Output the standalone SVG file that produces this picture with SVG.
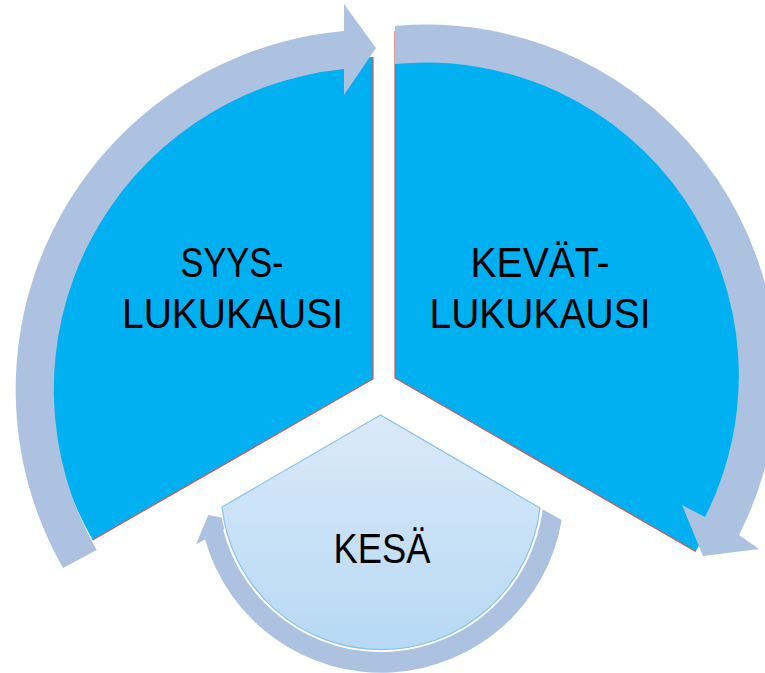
<svg xmlns="http://www.w3.org/2000/svg" width="765" height="673" viewBox="0 0 765 673">
  <defs>
    <linearGradient id="kesaGrad" x1="0" y1="0" x2="0" y2="1">
      <stop offset="0" stop-color="#dbe9f9"/>
      <stop offset="1" stop-color="#b6d9f4"/>
    </linearGradient>
    <style>
      .sector { fill: #00b0f0; stroke: none; }
      .edge { fill: none; stroke: #d9534f; stroke-width: 1.2; }
      .band { fill: #adc2e0; stroke: none; }
      .label { font-family: "Liberation Sans", Arial, sans-serif; font-size: 42px; fill: #000; text-anchor: middle; }
    </style>
  </defs>
  <rect width="765" height="673" fill="#ffffff"/>

  <g id="node-syys">
    <path class="sector" d="M 373,379 L 373,57 A 322 322 0 0 0 92.7,540 Z"/>
    <path class="edge" d="M 373,57 L 373,379 L 92.7,540"/>
    <text class="label" x="232" y="277" textLength="103" lengthAdjust="spacingAndGlyphs">SYYS-</text>
    <text class="label" x="232.5" y="328" textLength="221" lengthAdjust="spacingAndGlyphs">LUKUKAUSI</text>
  </g>

  <g id="node-kevat">
    <path class="sector" d="M 395,378 L 395,31 A 347 347 0 0 1 695.7,551.5 Z"/>
    <path class="edge" d="M 395,31 L 395,378 L 695.7,551.5"/>
    <text class="label" x="540" y="277" textLength="139" lengthAdjust="spacingAndGlyphs">KEVÄT-</text>
    <text class="label" x="540" y="328" textLength="221" lengthAdjust="spacingAndGlyphs">LUKUKAUSI</text>
  </g>

  <g id="connectors">
    <path id="arrow-syys-kevat" class="band" d="M 63,568 A 360 360 0 0 1 344,31 L 344,4 L 376,48 L 344,95 L 344,69 A 322 322 0 0 0 96.7,550 Z"/>
    <path id="arrow-kevat-kesa" class="band" d="M 395,26 A 351 351 0 0 1 739,535 L 759,549 L 703,556 L 682,505 L 705,517 A 313 313 0 0 0 395,64 Z"/>
    <path id="arrow-kesa-syys" class="band" d="M 542.7,509.3 L 561.7,520 A 183 183 0 0 1 205.1,539.4 L 196,544.3 L 208.3,515 L 239.3,521 L 223.1,529.7 A 163 163 0 0 0 542.7,509.3 Z"/>
  </g>

  <g id="node-kesa">
    <path d="M 380.5,415 L 222,507 A 160 160 0 0 0 540,508 Z" fill="none" stroke="#ffffff" stroke-width="3.5"/>
    <path d="M 380.5,415 L 222,507 A 160 160 0 0 0 540,508 Z" fill="url(#kesaGrad)" stroke="#86c2ec" stroke-width="1.2"/>
    <text class="label" x="382" y="563" textLength="97" lengthAdjust="spacingAndGlyphs">KESÄ</text>
  </g>
</svg>
